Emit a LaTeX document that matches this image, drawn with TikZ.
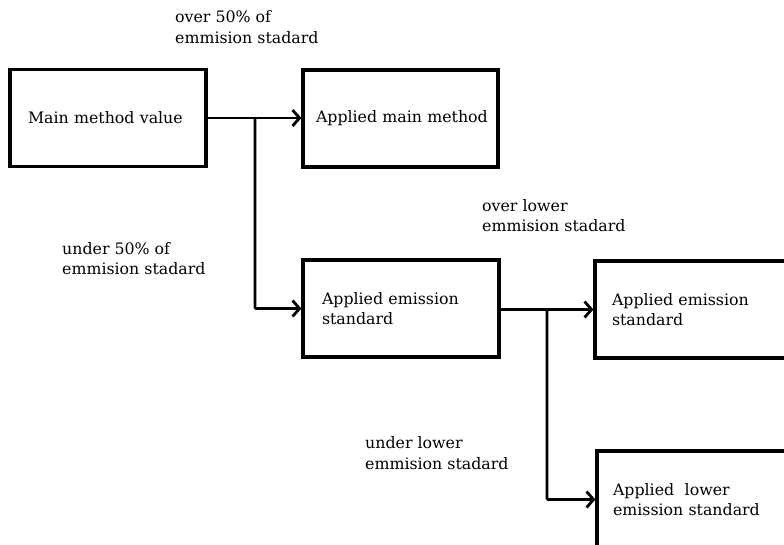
\documentclass[tikz,border=0pt]{standalone}
\usepackage{fontspec}
\setmainfont{DejaVu Serif}
\usetikzlibrary{arrows.meta}
\begin{document}
\begin{tikzpicture}[x=1pt,y=-1pt,
  font=\fontsize{15.8}{20.5}\selectfont,
  box/.style={draw,line width=3.2pt,minimum width=#1,minimum height=97pt,inner ysep=0pt},
  lbl/.style={anchor=west,align=left,inner sep=0pt},
  conn/.style={line width=2.8pt,-{Straight Barb[length=7pt,width=16pt,line width=2.8pt]}},
  plain/.style={line width=2.8pt}]
\useasboundingbox (0,0) rectangle (784,544);
\clip (0,0) rectangle (784,544);
\node[box=196pt,text width=160pt,align=left,inner xsep=18pt] (b1) at (108,118) {Main method value};
\node[box=195pt,text width=169pt,align=left,inner xsep=13pt] (b2) at (400.5,118.5) {\leavevmode\rlap{Applied main method}};
\node[box=196pt,text width=158pt,align=left,inner xsep=19pt] (b3) at (401,308.5) {Applied emission\\standard};
\node[box=210pt,text width=176pt,align=left,inner xsep=17pt] (b4) at (700,309.5) {Applied emission\\standard};
\node[box=210pt,text width=178pt,align=left,inner xsep=16pt] (b5) at (702,499.5) {Applied\ \ lower\\emission standard};
\node[lbl] (t1) at (175,27) {over 50\% of\\emmision stadard};
\node[lbl] (t2) at (62,258.5) {under 50\% of\\emmision stadard};
\node[lbl] (t3) at (482,215.5) {over lower\\emmision stadard};
\node[lbl] (t4) at (365,453) {under lower\\emmision stadard};
\coordinate (j1) at (255,118);
\coordinate (j2) at (547,309.5);
\draw[conn] (b1.east) -- (b1.east -| b2.west);
\draw[conn,rounded corners=1pt] (j1) |- (b3.west);
\draw[conn] (b3.east |- j2) -- (b4.west |- j2);
\draw[conn,rounded corners=1pt] (j2) |- (b5.west);
\end{tikzpicture}
\end{document}
